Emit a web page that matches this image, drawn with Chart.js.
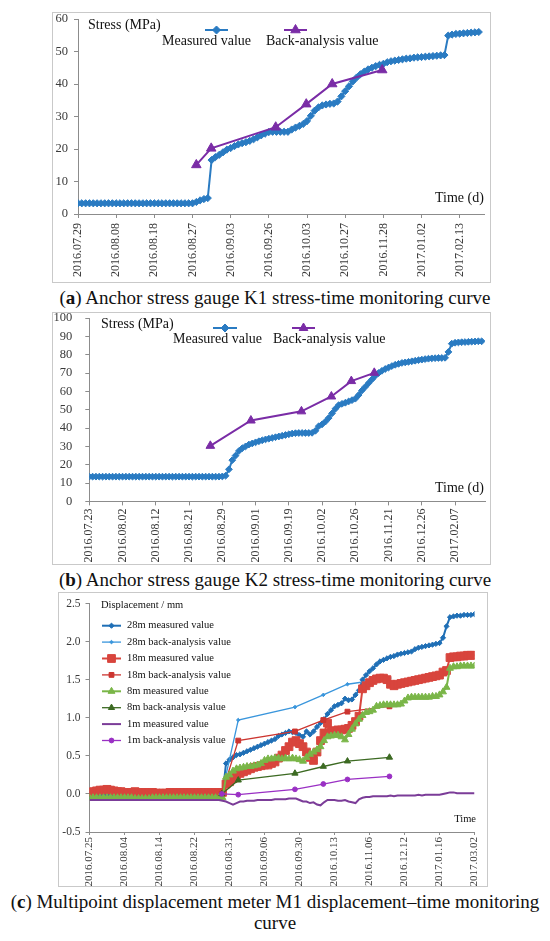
<!DOCTYPE html>
<html>
<head>
<meta charset="utf-8">
<script src="https://cdn.jsdelivr.net/npm/chart.js@4.4.1/dist/chart.umd.min.js"></script>
<style>
  body { margin: 0; background: #fff; width: 550px; height: 941px; position: relative; overflow: hidden; font-family: 'Liberation Serif', serif; }
  canvas { position: absolute; }
  .box { position: absolute; border: 1px solid #c9c9c9; box-sizing: border-box; pointer-events: none; }
  .cap { position: absolute; left: 0; width: 550px; text-align: center; font-size: 19px; line-height: 21px; color: #111; }
</style>
</head>
<body>
<canvas id="ka" width="439" height="271" style="left:52px;top:12px"></canvas>
<div class="box" style="left:52px;top:12px;width:439px;height:271px"></div>
<div class="cap" style="top:287px">(<b>a</b>) Anchor stress gauge K1 stress-time monitoring curve</div>

<canvas id="kb" width="439" height="253" style="left:52px;top:312px"></canvas>
<div class="box" style="left:52px;top:312px;width:439px;height:253px"></div>
<div class="cap" style="top:569px">(<b>b</b>) Anchor stress gauge K2 stress-time monitoring curve</div>

<canvas id="kc" width="430" height="295" style="left:58px;top:592px"></canvas>
<div class="box" style="left:58px;top:592px;width:430px;height:295px"></div>
<div class="cap" style="top:891px">(<b>c</b>) Multipoint displacement meter M1 displacement–time monitoring<br>curve</div>

<script>
// ---- (a) anchor stress gauge K1 ----
const K1_TICKS = ['2016.07.29','2016.08.08','2016.08.18','2016.08.27','2016.09.03','2016.09.26','2016.10.03','2016.10.27','2016.11.28','2017.01.02','2017.02.13'];
const K1_MEASURED = [
  3.3,3.3,3.3,3.3,3.3,3.3,3.3,3.3,3.3,3.3,
  3.3,3.3,3.3,3.3,3.3,3.3,3.3,3.3,3.3,3.3,
  3.3,3.3,3.3,3.3,3.3,3.3,3.3,3.3,3.3,3.3,
  3.3,3.7,4.2,4.6,4.9,16.6,17.5,18.2,19.0,19.8,
  20.3,20.9,21.4,21.8,22.1,22.5,23.0,23.6,24.2,24.7,
  25.2,25.3,25.3,25.3,25.3,25.3,26.0,26.6,27.1,27.7,
  28.6,30.2,31.8,32.8,33.4,33.7,33.9,34.0,34.6,36.2,
  37.8,39.3,40.8,42.0,43.0,43.8,44.5,45.0,45.5,45.9,
  46.2,46.7,47.0,47.2,47.4,47.6,47.8,47.9,48.1,48.2,
  48.3,48.4,48.5,48.6,48.7,48.8,48.9,54.9,55.2,55.4,
  55.5,55.6,55.7,55.8,55.9,56.0
];
const K1_BACK_X = [31, 34.9, 51.8, 59.8, 66.6, 79.7];
const K1_BACK = [15.1, 20.2, 26.7, 33.8, 40.0, 44.3];

// ---- (b) anchor stress gauge K2 ----
const K2_TICKS = ['2016.07.23','2016.08.02','2016.08.12','2016.08.21','2016.08.29','2016.09.01','2016.09.19','2016.10.02','2016.10.26','2016.11.21','2016.12.26','2017.02.07'];
const K2_MEASURED = [
  13.5,13.5,13.5,13.5,13.5,13.5,13.5,13.5,13.5,13.5,
  13.5,13.5,13.5,13.5,13.5,13.5,13.5,13.5,13.5,13.5,
  13.5,13.5,13.5,13.5,13.5,13.5,13.5,13.5,13.5,13.5,
  13.5,13.5,13.5,13.5,13.5,13.5,13.5,13.5,13.5,13.5,
  13.6,14.0,17.5,22.5,25.0,27.5,29.0,30.0,31.0,31.6,
  32.2,32.8,33.3,33.8,34.2,34.6,35.0,35.4,35.8,36.2,
  36.6,37.0,37.2,37.3,37.3,37.3,37.3,37.4,38.5,41.0,
  42.0,43.5,45.5,48.0,50.5,52.5,53.2,53.8,54.5,55.2,
  56.0,58.0,60.5,62.5,64.5,66.5,68.5,70.0,71.2,72.2,
  73.0,73.8,74.5,75.0,75.5,75.8,76.1,76.4,76.7,77.0,
  77.3,77.6,77.8,78.0,78.1,78.2,78.2,78.3,81.5,86.0,
  86.5,86.7,86.8,86.9,87.0,87.1,87.2,87.3,87.3
];
const K2_BACK_X = [36.4, 48.6, 63.8, 72.8, 78.8, 85.7];
const K2_BACK = [30.3, 44.1, 49.1, 57.2, 65.6, 70.1];

// ---- (c) multipoint displacement meter M1 ----
const M1_TICKS = ['2016.07.25','2016.08.04','2016.08.14','2016.08.22','2016.08.31','2016.09.06','2016.09.30','2016.10.13','2016.11.06','2016.12.12','2017.01.16','2017.03.02'];
const M1_28M = [
  -0.03,-0.03,-0.02,-0.02,-0.02,-0.02,-0.03,-0.03,-0.03,-0.03,
  -0.03,-0.03,-0.03,-0.03,-0.03,-0.03,-0.03,-0.03,-0.03,-0.03,
  -0.03,-0.03,-0.03,-0.03,-0.03,-0.03,-0.03,-0.03,-0.03,-0.03,
  -0.03,-0.03,-0.03,-0.03,-0.03,-0.03,-0.03,-0.03,-0.02,0.40,
  0.45,0.48,0.51,0.52,0.54,0.56,0.58,0.60,0.62,0.64,
  0.66,0.68,0.70,0.72,0.76,0.78,0.80,0.82,0.81,0.80,
  0.77,0.75,0.82,0.78,0.82,0.88,0.93,0.98,1.05,1.10,
  1.15,1.17,1.19,1.25,1.23,1.24,1.30,1.36,1.50,1.56,
  1.61,1.65,1.70,1.74,1.76,1.78,1.80,1.81,1.83,1.84,
  1.85,1.86,1.87,1.90,1.92,1.93,1.94,1.95,1.96,1.97,
  1.98,2.05,2.20,2.32,2.33,2.34,2.34,2.35,2.35,2.35,
  2.36
];
const M1_18M = [
  0.02,0.03,0.04,0.05,0.05,0.06,0.05,0.04,0.03,0.03,
  0.02,0.02,0.02,0.03,0.02,0.02,0.02,0.02,0.02,0.01,
  0.01,0.01,0.01,0.02,0.02,0.02,0.02,0.02,0.02,0.02,
  0.02,0.02,0.02,0.02,0.02,0.02,0.02,0.02,0.02,0.13,
  0.16,0.20,0.25,0.27,0.29,0.31,0.33,0.35,0.36,0.37,
  0.38,0.38,0.40,0.42,0.47,0.51,0.57,0.62,0.68,0.70,
  0.66,0.62,0.55,0.48,0.44,0.55,0.70,0.80,0.93,0.82,
  0.83,0.84,0.84,0.85,0.86,0.90,0.95,1.02,1.38,1.42,
  1.46,1.49,1.51,1.52,1.52,1.50,1.44,1.42,1.44,1.45,
  1.46,1.47,1.48,1.49,1.50,1.51,1.52,1.53,1.54,1.55,
  1.56,1.60,1.62,1.79,1.80,1.80,1.81,1.81,1.82,1.82,
  1.82
];
const M1_8M = [
  -0.05,-0.05,-0.05,-0.05,-0.05,-0.05,-0.05,-0.05,-0.05,-0.05,
  -0.05,-0.05,-0.05,-0.06,-0.06,-0.06,-0.06,-0.06,-0.05,-0.05,
  -0.05,-0.05,-0.05,-0.05,-0.05,-0.05,-0.05,-0.05,-0.05,-0.05,
  -0.05,-0.05,-0.05,-0.05,-0.05,-0.05,-0.05,-0.05,-0.05,0.22,
  0.25,0.30,0.33,0.34,0.35,0.36,0.36,0.37,0.38,0.40,
  0.44,0.46,0.46,0.47,0.47,0.46,0.47,0.46,0.47,0.46,
  0.45,0.43,0.48,0.52,0.55,0.58,0.62,0.70,0.75,0.76,
  0.77,0.77,0.75,0.71,0.78,0.85,0.92,0.98,1.03,1.07,
  1.08,1.10,1.15,1.16,1.17,1.17,1.17,1.17,1.17,1.18,
  1.22,1.26,1.27,1.27,1.27,1.27,1.27,1.27,1.28,1.28,
  1.30,1.34,1.40,1.65,1.67,1.67,1.68,1.68,1.68,1.68,
  1.68
];
const M1_1M = [
  -0.08,-0.08,-0.08,-0.08,-0.08,-0.08,-0.08,-0.08,-0.08,-0.08,
  -0.08,-0.08,-0.08,-0.08,-0.08,-0.08,-0.08,-0.08,-0.08,-0.08,
  -0.08,-0.08,-0.08,-0.08,-0.08,-0.08,-0.08,-0.08,-0.08,-0.08,
  -0.08,-0.08,-0.08,-0.08,-0.08,-0.08,-0.08,-0.08,-0.09,-0.10,
  -0.12,-0.14,-0.12,-0.10,-0.10,-0.09,-0.09,-0.09,-0.08,-0.08,
  -0.08,-0.08,-0.08,-0.07,-0.07,-0.07,-0.07,-0.06,-0.06,-0.06,
  -0.08,-0.10,-0.10,-0.12,-0.11,-0.14,-0.15,-0.11,-0.08,-0.08,
  -0.08,-0.09,-0.09,-0.08,-0.10,-0.11,-0.12,-0.07,-0.05,-0.04,
  -0.04,-0.03,-0.03,-0.03,-0.03,-0.03,-0.02,-0.03,-0.02,-0.02,
  -0.02,-0.02,-0.02,-0.02,-0.01,-0.02,-0.01,-0.01,-0.01,-0.01,
  -0.01,0.00,0.01,0.02,0.02,0.01,0.01,0.01,0.01,0.01,
  0.01
];
const M1_BACK_X = [37.8, 42.5, 58.7, 66.8, 73.7, 85.7];
const M1_BACK_28M = [0, 0.97, 1.14, 1.30, 1.44, 1.52];
const M1_BACK_18M = [0, 0.70, 0.82, 0.97, 1.08, 1.15];
const M1_BACK_8M = [0, 0.18, 0.27, 0.36, 0.43, 0.48];
const M1_BACK_1M = [0, -0.01, 0.06, 0.13, 0.19, 0.23];

const SERIF = "'Liberation Serif', 'Times New Roman', serif";
const AXIS = '#8c8c8c';
const TICK_TXT = '#3a3a3a';
const BLUE = '#2a7bc2';
const PURPLE = '#7a2ca6';

Chart.defaults.font.family = SERIF;

const byIndex = (vals) => vals.map((y, i) => ({ x: i, y }));
const pairs = (xs, ys) => xs.map((x, i) => ({ x, y: ys[i] }));

// legend keys and loose texts drawn inside the plot, Excel style
const notes = {
  id: 'notes',
  afterDatasetsDraw(chart, args, o) {
    const ctx = chart.ctx;
    ctx.save();
    ctx.textBaseline = 'middle';
    (o.items || []).forEach((it, i) => {
      const ds = chart.data.datasets[i];
      ctx.strokeStyle = ds.borderColor;
      ctx.lineWidth = ds.borderWidth;
      ctx.beginPath();
      ctx.moveTo(it.x1, it.y);
      ctx.lineTo(it.x2, it.y);
      ctx.stroke();
      if (ds.pointRadius > 0) {
        ctx.fillStyle = ds.pointBackgroundColor;
        ctx.strokeStyle = ds.pointBorderColor;
        ctx.lineWidth = 1;
        Chart.helpers.drawPoint(ctx, { pointStyle: ds.pointStyle, radius: it.r || ds.pointRadius, rotation: 0, borderWidth: 1 }, (it.x1 + it.x2) / 2, it.y);
      }
      ctx.fillStyle = '#111';
      ctx.font = o.font;
      ctx.textAlign = 'left';
      ctx.fillText(ds.label, it.tx, it.ty);
    });
    (o.texts || []).forEach((t) => {
      ctx.fillStyle = '#111';
      ctx.font = t.font;
      ctx.textAlign = t.align || 'left';
      ctx.fillText(t.text, t.x, t.y);
    });
    ctx.restore();
  }
};

function xAxis(labels, max, size, height, tickLen, pad) {
  return {
    type: 'linear', min: 0, max,
    border: { display: true, color: AXIS, width: 1 },
    grid: { drawOnChartArea: false, drawTicks: true, tickLength: tickLen, color: AXIS },
    ticks: {
      stepSize: 10, includeBounds: false, autoSkip: false,
      minRotation: 90, maxRotation: 90, padding: pad,
      color: TICK_TXT, font: { family: SERIF, size },
      callback: (v) => labels[Math.round(v / 10)] || ''
    },
    afterFit(s) { s.height = height; s.paddingLeft = 0; s.paddingRight = 0; }
  };
}

function yAxis(min, max, step, size, width, pad, fmt) {
  return {
    min, max,
    border: { display: true, color: AXIS, width: 1 },
    grid: { drawOnChartArea: false, drawTicks: true, tickLength: 4, color: AXIS },
    ticks: {
      stepSize: step, padding: pad, color: TICK_TXT, font: { family: SERIF, size },
      callback: fmt || ((v) => v)
    },
    afterFit(s) { s.width = width; s.paddingTop = 0; s.paddingBottom = 0; }
  };
}

function baseOptions(padding, scales, notesCfg) {
  return {
    responsive: false, animation: false, devicePixelRatio: 1,
    layout: { padding },
    elements: { line: { tension: 0 } },
    plugins: { legend: { display: false }, tooltip: { enabled: false }, notes: notesCfg },
    scales
  };
}

// (a)
new Chart(document.getElementById('ka'), {
  type: 'line',
  data: {
    datasets: [
      { label: 'Measured value', data: byIndex(K1_MEASURED), borderColor: BLUE, borderWidth: 2,
        pointStyle: 'rectRot', pointRadius: 3.6, pointBackgroundColor: BLUE, pointBorderColor: BLUE, pointBorderWidth: 1, order: 2 },
      { label: 'Back-analysis value', data: pairs(K1_BACK_X, K1_BACK), borderColor: PURPLE, borderWidth: 2,
        pointStyle: 'triangle', pointRadius: 5.5, pointBackgroundColor: PURPLE, pointBorderColor: PURPLE, pointBorderWidth: 1, order: 1 }
    ]
  },
  options: baseOptions({ left: 0, top: 7, right: 4, bottom: 0 }, {
    x: xAxis(K1_TICKS, 106.5, 12, 69, 4, 5),
    y: yAxis(0, 60, 10, 12.5, 26, 6)
  }, {
    font: '14px ' + SERIF,
    items: [
      { x1: 153, x2: 176, y: 18, tx: 110, ty: 29, r: 4 },
      { x1: 232, x2: 255, y: 18, tx: 214, ty: 29 }
    ],
    texts: [
      { text: 'Stress (MPa)', x: 36, y: 13, font: '14px ' + SERIF },
      { text: 'Time (d)', x: 383, y: 186, font: '14px ' + SERIF }
    ]
  }),
  plugins: [notes]
});

// (b)
new Chart(document.getElementById('kb'), {
  type: 'line',
  data: {
    datasets: [
      { label: 'Measured value', data: byIndex(K2_MEASURED), borderColor: BLUE, borderWidth: 2,
        pointStyle: 'rectRot', pointRadius: 3.4, pointBackgroundColor: BLUE, pointBorderColor: BLUE, pointBorderWidth: 1, order: 2 },
      { label: 'Back-analysis value', data: pairs(K2_BACK_X, K2_BACK), borderColor: PURPLE, borderWidth: 2,
        pointStyle: 'triangle', pointRadius: 5, pointBackgroundColor: PURPLE, pointBorderColor: PURPLE, pointBorderWidth: 1, order: 1 }
    ]
  },
  options: baseOptions({ left: 0, top: 3.4, right: 4.2, bottom: 0 }, {
    x: xAxis(K2_TICKS, 119, 12, 63.6, 4, 3),
    y: yAxis(0, 100, 10, 12.5, 37.3, 13)
  }, {
    font: '14px ' + SERIF,
    items: [
      { x1: 161, x2: 185, y: 16, tx: 121, ty: 27, r: 4 },
      { x1: 240, x2: 263, y: 16, tx: 221, ty: 27 }
    ],
    texts: [
      { text: 'Stress (MPa)', x: 49, y: 12, font: '14px ' + SERIF },
      { text: 'Time (d)', x: 383, y: 176, font: '14px ' + SERIF }
    ]
  }),
  plugins: [notes]
});

// (c)
const cSeries = [
  { label: '28m measured value', data: byIndex(M1_28M), color: '#1f6fb6', style: 'rectRot', r: 2.6, w: 2 },
  { label: '28m back-analysis value', data: pairs(M1_BACK_X, M1_BACK_28M), color: '#3a96dc', style: 'rectRot', r: 1.8, w: 1.3 },
  { label: '18m measured value', data: byIndex(M1_18M), color: '#d8453d', style: 'rect', r: 5.5, w: 2 },
  { label: '18m back-analysis value', data: pairs(M1_BACK_X, M1_BACK_18M), color: '#cc3530', style: 'rect', r: 3.4, w: 1.3 },
  { label: '8m measured value', data: byIndex(M1_8M), color: '#7ab648', style: 'triangle', r: 4, w: 2 },
  { label: '8m back-analysis value', data: pairs(M1_BACK_X, M1_BACK_8M), color: '#3c6a22', style: 'triangle', r: 3.6, w: 1.3 },
  { label: '1m measured value', data: byIndex(M1_1M), color: '#7b3c98', style: 'circle', r: 0, w: 2 },
  { label: '1m back-analysis value', data: pairs(M1_BACK_X, M1_BACK_1M), color: '#9a30c4', style: 'circle', r: 2.4, w: 1.3 }
];

new Chart(document.getElementById('kc'), {
  type: 'line',
  data: {
    datasets: cSeries.map((s, i) => ({
      label: s.label, data: s.data, borderColor: s.color, borderWidth: s.w,
      pointStyle: s.style, pointRadius: s.r, pointBackgroundColor: s.color, pointBorderColor: s.color,
      pointBorderWidth: s.r ? 1 : 0, order: cSeries.length - i
    }))
  },
  options: baseOptions({ left: 0, top: 11.5, right: 13.5, bottom: 0 }, {
    x: xAxis(M1_TICKS, 110, 11, 55, 3, 2),
    y: yAxis(-0.5, 2.5, 0.5, 11.5, 31.5, 5, (v) => v.toFixed(1))
  }, {
    font: '10.5px ' + SERIF,
    items: cSeries.map((s, i) => ({ x1: 44, x2: 63, y: 33.7 + 16.4 * i, tx: 69, ty: 33.7 + 16.4 * i })),
    texts: [
      { text: 'Displacement / mm', x: 43, y: 13.7, font: '10.5px ' + SERIF },
      { text: 'Time', x: 418, y: 227, font: '10.5px ' + SERIF, align: 'right' }
    ]
  }),
  plugins: [notes]
});
</script>
</body>
</html>
